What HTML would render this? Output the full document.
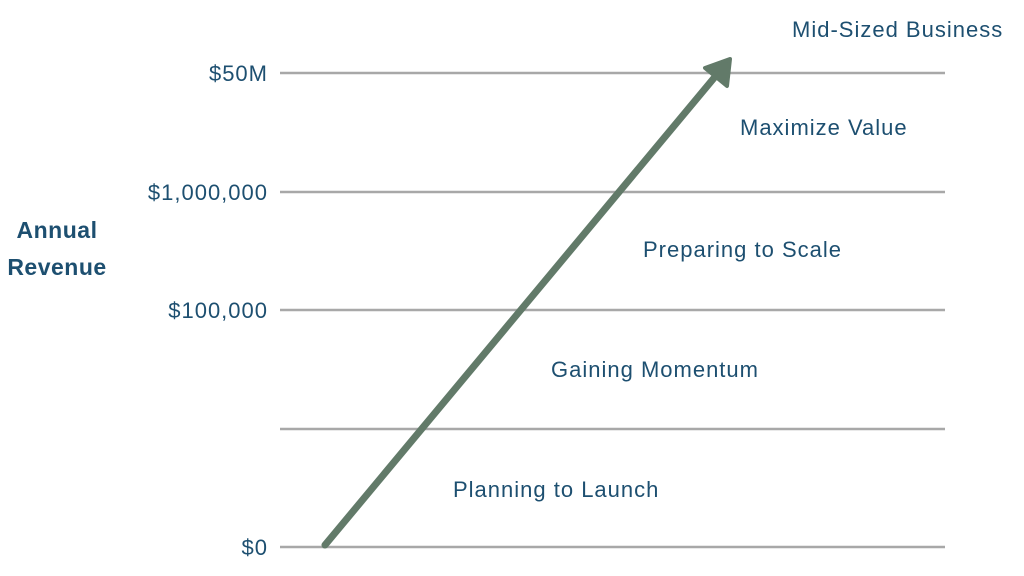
<!DOCTYPE html>
<html><head><style>
body{margin:0;width:1024px;height:576px;background:#fff;overflow:hidden;position:relative;font-family:"Liberation Sans",sans-serif;color:#1d4f70}
.t{position:absolute;font-size:22px;letter-spacing:1px;white-space:nowrap;line-height:1}
.r{text-align:right}
</style></head><body>
<svg width="1024" height="576" style="position:absolute;left:0;top:0">
<g stroke="#a8a8a8" stroke-width="2.5">
<line x1="280" y1="73" x2="945" y2="73"/>
<line x1="280" y1="192" x2="945" y2="192"/>
<line x1="280" y1="310" x2="945" y2="310"/>
<line x1="280" y1="429" x2="945" y2="429"/>
<line x1="280" y1="547" x2="945" y2="547"/>
</g>
<line x1="325" y1="545" x2="714" y2="78" stroke="#627a69" stroke-width="7" stroke-linecap="round"/>
<polygon points="730,59 705,68 727,86" fill="#627a69" stroke="#627a69" stroke-width="4" stroke-linejoin="round"/>
</svg>
<div class="t" style="left:792px;top:19px">Mid-Sized Business</div>
<div class="t r" style="right:756px;top:63px">$50M</div>
<div class="t r" style="right:756px;top:182px">$1,000,000</div>
<div class="t r" style="right:756px;top:300px">$100,000</div>
<div class="t r" style="right:756px;top:537px">$0</div>
<div class="t" style="left:740px;top:117px">Maximize Value</div>
<div class="t" style="left:643px;top:239px">Preparing to Scale</div>
<div class="t" style="left:551px;top:359px">Gaining Momentum</div>
<div class="t" style="left:453px;top:479px">Planning to Launch</div>
<div class="t" style="left:6px;top:212px;font-weight:bold;font-size:23px;letter-spacing:0.5px;text-align:center;line-height:37px;width:102px">Annual<br>Revenue</div>
</body></html>
